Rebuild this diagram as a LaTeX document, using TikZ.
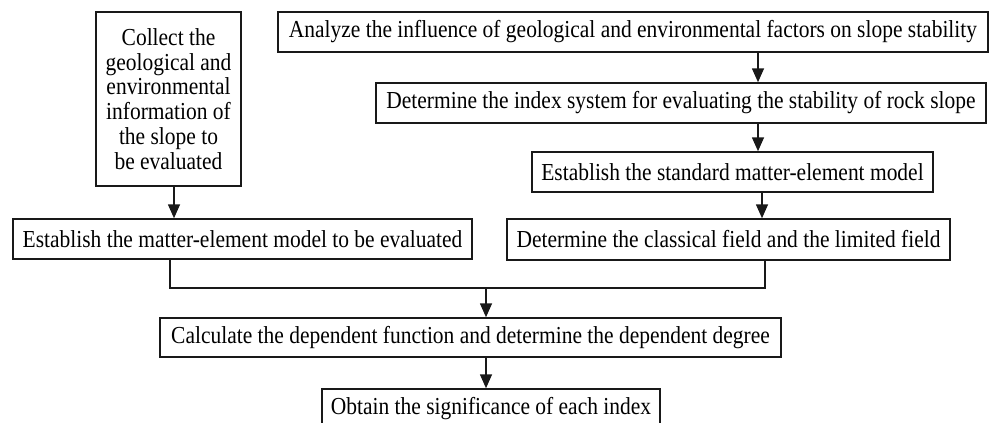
\documentclass[tikz,border=0pt]{standalone}
\usepackage{fontspec}
\setmainfont[FakeStretch=0.88]{Liberation Serif}
\usetikzlibrary{arrows.meta}
\begin{document}
\begin{tikzpicture}[x=1pt,y=-1pt,
  box/.style={draw=black!90, line width=1.5pt, inner sep=0pt, align=center,
    font=\fontsize{24.4}{24.8}\selectfont},
  arr/.style={draw=black!90, line width=1.6pt, -{Triangle[length=14pt,width=12pt]}},
  ln/.style={draw=black!90, line width=1.5pt}]
\useasboundingbox (0,0) rectangle (991,423);
\clip (0,0) rectangle (991,423);
\node[box, minimum width=145pt, minimum height=174pt] (A) at (168.5,99)
  {Collect the\\geological and\\environmental\\information of\\the slope to\\be evaluated};
\node[box, minimum width=710pt, minimum height=40pt] (an) at (633,32)
  {Analyze the influence of geological and environmental factors on slope stability};
\node[box, minimum width=610pt, minimum height=40pt] (di) at (681,103)
  {Determine the index system for evaluating the stability of rock slope};
\node[box, minimum width=401pt, minimum height=40pt] (es) at (732.5,172)
  {Establish the standard matter-element model};
\node[box, minimum width=443pt, minimum height=41pt] (cf) at (728.5,239.5)
  {Determine the classical field and the limited field};
\node[box, minimum width=459pt, minimum height=40pt] (b) at (242.5,239)
  {Establish the matter-element model to be evaluated};
\node[box, minimum width=621pt, minimum height=39pt] (calc) at (470.5,337.5)
  {Calculate the dependent function and determine the dependent degree};
\node[box, minimum width=338pt, minimum height=40pt] (ob) at (491,409)
  {Obtain the significance of each index};
% arrows
\draw[arr] ([xshift=5.5pt]A.south) -- ([xshift=5.5pt]A.south |- b.north);
\draw[arr] (758,0 |- an.south) -- (758,0 |- di.north);
\draw[arr] (758,0 |- di.south) -- (758,0 |- es.north);
\draw[arr] (762,0 |- es.south) -- (762,0 |- cf.north);
% bracket
\coordinate (m) at (486,288);
\draw[ln] (170,0 |- b.south) -- (170,288) -- (765,288) -- (765,0 |- cf.south);
\draw[arr] (m) -- (m |- calc.north);
\draw[arr] (m |- calc.south) -- (m |- ob.north);
\end{tikzpicture}
\end{document}
